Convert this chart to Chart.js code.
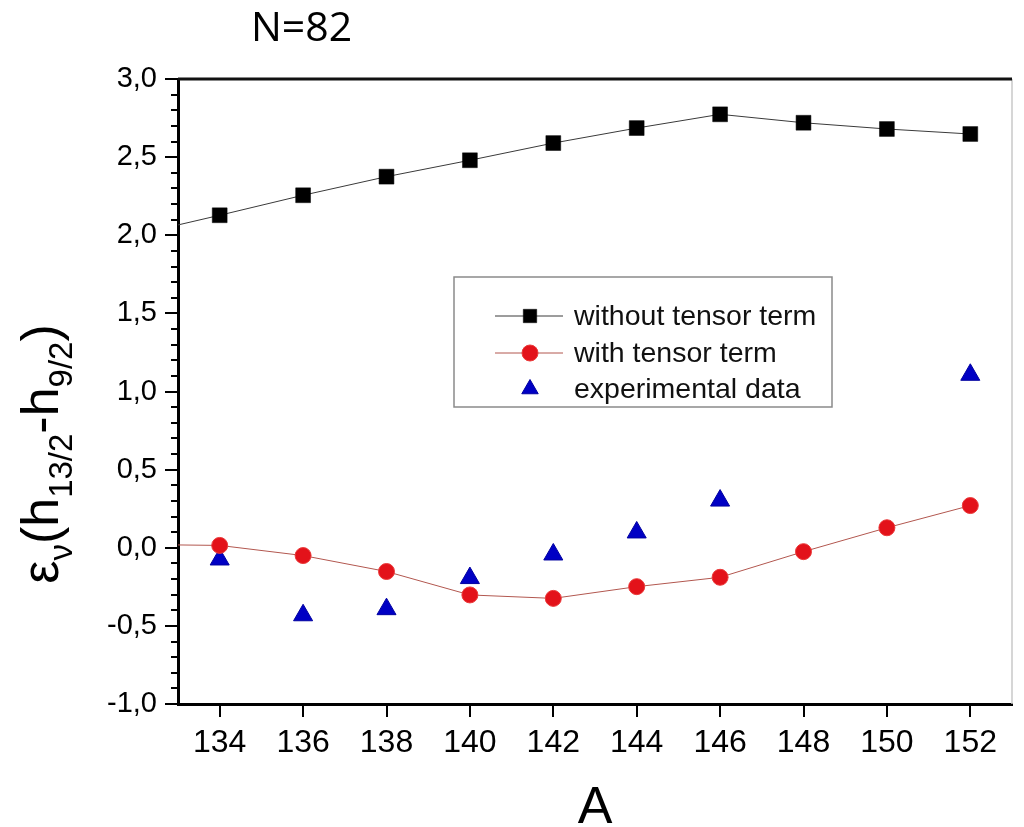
<!DOCTYPE html>
<html>
<head>
<meta charset="utf-8">
<script src="https://cdn.jsdelivr.net/npm/chart.js@4/dist/chart.umd.min.js"></script>
<style>
  html, body { margin: 0; padding: 0; background: #fff; }
  #c { display: block; }
</style>
</head>
<body>
<canvas id="c" width="1024" height="827"></canvas>
<script>
// ---- data ----
const massNumbers = [134, 136, 138, 140, 142, 144, 146, 148, 150, 152];
const withoutTensor = [2.128, 2.256, 2.375, 2.48, 2.59, 2.686, 2.774, 2.72, 2.68, 2.648];
const withTensor = [0.015, -0.05, -0.152, -0.302, -0.324, -0.249, -0.189, -0.025, 0.128, 0.27];
const expMass = [134, 136, 138, 140, 142, 144, 146, 152];
const expData = [-0.075, -0.432, -0.393, -0.194, -0.043, 0.098, 0.302, 1.107];
// curves continue to the left axis edge (A = 133)
const edgeMass = 133;
const withoutTensorEdge = 2.066;
const withTensorEdge = 0.018;

const xTicks = [134, 136, 138, 140, 142, 144, 146, 148, 150, 152];
const yTicks = [-1.0, -0.5, 0.0, 0.5, 1.0, 1.5, 2.0, 2.5, 3.0];
const yMinorStep = 0.1;

const seriesNames = ['without tensor term', 'with tensor term', 'experimental data'];
const chartTitle = 'N=82';
const xTitle = 'A';

// ---- build datasets ----
const ptsWithout = [{x: edgeMass, y: withoutTensorEdge}].concat(massNumbers.map((a, i) => ({x: a, y: withoutTensor[i]})));
const ptsWith = [{x: edgeMass, y: withTensorEdge}].concat(massNumbers.map((a, i) => ({x: a, y: withTensor[i]})));
const ptsExp = expMass.map((a, i) => ({x: a, y: expData[i]}));

const FONT = '"Liberation Sans", Arial, sans-serif';

const fmt = v => (Math.round(v * 10) / 10).toFixed(1).replace('.', ',');

const framePlugin = {
  id: 'frame',
  beforeDatasetsDraw(chart) {
    const {ctx, chartArea: a} = chart;
    ctx.save();
    ctx.strokeStyle = '#c8c8c8';
    ctx.lineWidth = 1.5;
    ctx.beginPath(); ctx.moveTo(a.right, a.top); ctx.lineTo(a.right, a.bottom); ctx.stroke();
    ctx.strokeStyle = '#111';
    ctx.lineWidth = 3;
    ctx.beginPath(); ctx.moveTo(a.left, a.top); ctx.lineTo(a.right, a.top); ctx.stroke();
    const ys = chart.scales.y;
    ctx.lineWidth = 2;
    ctx.strokeStyle = '#000';
    const n = Math.round((ys.max - ys.min) / yMinorStep);
    for (let i = 0; i <= n; i++) {
      const v = ys.min + i * yMinorStep;
      if (Math.abs(v * 2 - Math.round(v * 2)) < 1e-6) continue;
      const py = Math.round(ys.getPixelForValue(v));
      ctx.beginPath(); ctx.moveTo(a.left - 7, py); ctx.lineTo(a.left, py); ctx.stroke();
    }
    ctx.restore();
  }
};

function drawMarker(ctx, ds, x, y) {
  ctx.save();
  ctx.fillStyle = ds.pointBackgroundColor;
  ctx.strokeStyle = ds.pointBorderColor;
  ctx.lineWidth = ds.pointBorderWidth;
  if (Chart.helpers && Chart.helpers.drawPoint) {
    Chart.helpers.drawPoint(ctx, {pointStyle: ds.pointStyle, radius: ds.legendRadius, borderWidth: ds.pointBorderWidth, rotation: 0}, x, y);
  }
  ctx.restore();
}

const legendPlugin = {
  id: 'boxLegend',
  afterDatasetsDraw(chart) {
    const {ctx} = chart;
    const box = {l: 454, t: 277, r: 832, b: 407};
    ctx.save();
    ctx.fillStyle = '#fff';
    ctx.fillRect(box.l, box.t, box.r - box.l, box.b - box.t);
    ctx.strokeStyle = '#8a8a8a';
    ctx.lineWidth = 1.5;
    ctx.strokeRect(box.l, box.t, box.r - box.l, box.b - box.t);
    const rows = [316, 353, 389];
    chart.data.datasets.forEach((ds, i) => {
      const y = rows[i];
      if (ds.showLine !== false) {
        ctx.strokeStyle = ds.borderColor;
        ctx.lineWidth = ds.borderWidth;
        ctx.beginPath(); ctx.moveTo(495, y); ctx.lineTo(563, y); ctx.stroke();
      }
      drawMarker(ctx, ds, 530, y);
      ctx.fillStyle = '#111';
      ctx.font = '28.5px ' + FONT;
      ctx.textBaseline = 'middle';
      ctx.textAlign = 'left';
      ctx.fillText(ds.label, 574, y + 1);
    });
    ctx.restore();
  }
};

const textPlugin = {
  id: 'texts',
  afterDraw(chart) {
    const {ctx} = chart;
    ctx.save();
    ctx.fillStyle = '#000';
    ctx.font = '41px "Open Sans", "Liberation Sans", sans-serif';
    ctx.textBaseline = 'alphabetic';
    ctx.textAlign = 'left';
    ctx.fillText(chartTitle, 251, 41);

    const parts = [
      ['ε', 0], ['ν', 1], ['(h', 0], ['13/2', 1], ['-h', 0], ['9/2', 1], [')', 0]
    ];
    const mainF = '52px ' + FONT, subF = '33px ' + FONT;
    let total = 0;
    parts.forEach(p => { ctx.font = p[1] ? subF : mainF; total += ctx.measureText(p[0]).width; });
    const cx = 58, cy = 454;
    ctx.translate(cx, cy);
    ctx.rotate(-Math.PI / 2);
    let x = -total / 2;
    parts.forEach(p => {
      ctx.font = p[1] ? subF : mainF;
      ctx.fillText(p[0], x, p[1] ? 14 : 0);
      x += ctx.measureText(p[0]).width;
    });
    ctx.restore();
  }
};

new Chart(document.getElementById('c'), {
  type: 'line',
  data: {
    datasets: [
      {
        label: seriesNames[0],
        data: ptsWithout,
        borderColor: '#3a3a3a',
        borderWidth: 1,
        tension: 0,
        pointStyle: 'rect',
        pointRadius: ctx => ctx.dataIndex === 0 ? 0 : 10.5,
        legendRadius: 9.5,
        pointBackgroundColor: '#000',
        pointBorderColor: '#000',
        pointBorderWidth: 0.5
      },
      {
        label: seriesNames[1],
        data: ptsWith,
        borderColor: '#b2574f',
        borderWidth: 1,
        tension: 0,
        pointStyle: 'circle',
        pointRadius: ctx => ctx.dataIndex === 0 ? 0 : 8,
        legendRadius: 8,
        pointBackgroundColor: '#e3121a',
        pointBorderColor: '#ea3a3a',
        pointBorderWidth: 1
      },
      {
        label: seriesNames[2],
        data: ptsExp,
        showLine: false,
        pointStyle: 'triangle',
        pointRadius: 11,
        legendRadius: 9.5,
        pointBackgroundColor: '#0000c4',
        pointBorderColor: '#0000a0',
        pointBorderWidth: 1
      }
    ]
  },
  options: {
    responsive: false,
    animation: false,
    events: [],
    layout: { padding: { left: 0, top: 79, right: 4, bottom: 0 } },
    plugins: { legend: { display: false }, tooltip: { enabled: false }, title: { display: false } },
    scales: {
      x: {
        type: 'linear',
        min: 133, max: 153,
        afterFit: s => { s.height = 123; },
        afterBuildTicks: s => { s.ticks = xTicks.map(v => ({value: v})); },
        grid: { drawOnChartArea: false, drawTicks: true, tickLength: 13, color: '#000', lineWidth: 2 },
        border: { display: true, color: '#000', width: 3 },
        ticks: { color: '#000', font: { family: FONT, size: 32 }, padding: 7, maxRotation: 0, autoSkip: false,
                 callback: v => String(v) },
        title: { display: true, text: xTitle, color: '#000', font: { family: FONT, size: 52, lineHeight: 0.9 }, padding: { top: 0, bottom: -5 } }
      },
      y: {
        type: 'linear',
        min: -1, max: 3,
        afterFit: s => { s.width = 178; },
        afterBuildTicks: s => { s.ticks = yTicks.map(v => ({value: v})); },
        grid: { drawOnChartArea: false, drawTicks: true, tickLength: 13, color: '#000', lineWidth: 2 },
        border: { display: true, color: '#000', width: 3 },
        ticks: { color: '#000', font: { family: FONT, size: 29 }, padding: 8, callback: v => fmt(v) }
      }
    }
  },
  plugins: [framePlugin, legendPlugin, textPlugin]
});
</script>
</body>
</html>
